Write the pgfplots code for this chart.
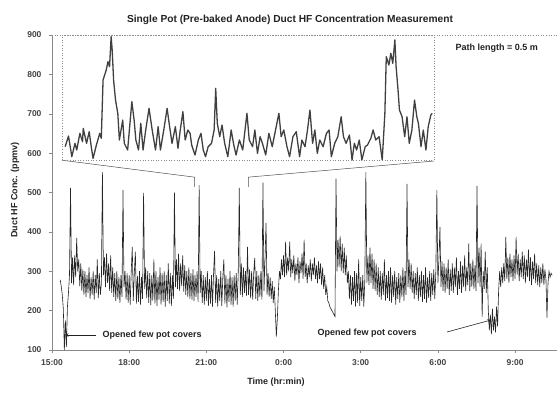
\documentclass[border=0pt]{standalone}
\usepackage{pgfplots}
\pgfplotsset{compat=1.18}
\usepackage{pgfplotstable}
\usepackage{fontspec}
\setmainfont{Liberation Sans}
\definecolor{txt}{HTML}{222222}
\definecolor{axgray}{HTML}{8A8A8A}
\definecolor{dataline}{HTML}{262626}
\definecolor{insetline}{HTML}{404040}

% Main series: HF concentration (ppmv), sampled every 0.04 h starting 15.32 h
\pgfplotstableread{
y
278
262
240
205
100
175
108
210
245
290
512
270
335
265
340
285
385
300
330
262
320
250
305
240
300
235
290
245
310
230
285
240
300
228
290
245
330
232
295
240
270
552
290
335
260
345
270
320
250
340
245
310
235
295
225
300
230
285
220
290
235
506
260
300
228
295
220
290
215
300
362
225
295
350
218
288
222
300
215
285
230
499
255
310
232
300
220
295
214
290
225
330
218
300
212
285
228
310
215
295
222
300
210
290
225
320
218
295
212
290
230
500
260
330
255
345
250
320
262
340
248
315
240
300
235
310
230
295
228
305
225
290
235
300
222
519
245
300
220
290
215
285
225
300
212
280
218
290
210
295
352
220
290
210
280
225
300
212
285
330
218
290
208
280
222
300
215
285
210
290
225
295
215
300
512
240
320
235
310
245
300
238
362
240
305
232
300
228
295
334
230
300
225
290
235
300
228
525
250
330
423
240
295
235
285
230
275
220
260
200
134
180
250
300
280
330
290
340
285
375
290
335
300
375
285
330
295
340
275
320
290
335
270
325
295
345
280
380
285
320
270
315
285
330
275
320
290
335
280
315
270
325
280
320
265
310
255
290
240
260
225
220
210
205
200
195
190
185
535
300
380
310
390
300
370
295
360
290
340
270
300
230
290
215
285
225
300
210
295
220
330
212
285
225
290
210
280
552
270
340
265
360
270
345
255
330
250
320
240
310
235
300
228
295
240
330
225
290
232
300
225
310
220
290
235
300
215
285
230
295
220
290
235
310
225
300
240
522
260
330
255
320
245
300
230
295
240
310
225
290
235
300
222
290
230
310
220
285
232
300
225
295
240
305
230
300
506
270
330
413
260
325
250
320
245
310
255
330
240
305
250
320
245
310
260
335
240
300
255
325
245
315
260
340
250
310
265
370
250
320
260
330
255
315
250
517
270
360
260
370
184
300
255
350
245
310
200
150
190
140
205
150
185
145
210
160
250
300
260
310
270
320
275
387
280
335
270
345
285
330
275
340
280
387
290
345
275
330
285
350
280
340
270
330
285
355
275
335
265
325
280
345
270
320
265
315
260
310
270
320
265
305
280
182
270
300
285
295
290
}\mainseries

% Inset: magnified view of 20:32-22:38 (hours, ppmv)
\pgfplotstableread{
x y
20.538 245.9
20.557 273.0
20.576 220.5
20.594 254.4
20.604 237.4
20.622 279.8
20.637 258.6
20.641 292.5
20.660 254.4
20.675 284.1
20.688 241.7
20.697 216.2
20.716 250.1
20.735 279.8
20.744 267.1
20.754 415.5
20.772 440.9
20.782 462.1
20.791 449.4
20.800 525.7
20.806 491.8
20.814 415.5
20.825 364.6
20.838 330.7
20.847 262.9
20.866 313.7
20.875 254.4
20.894 237.4
20.918 360.4
20.931 313.7
20.941 262.9
20.956 237.4
20.969 305.3
20.982 237.4
20.997 288.3
21.016 343.4
21.034 288.3
21.053 237.4
21.068 296.8
21.081 237.4
21.100 288.3
21.119 343.4
21.128 313.7
21.147 254.4
21.166 296.8
21.181 241.7
21.194 288.3
21.209 334.9
21.222 262.9
21.237 288.3
21.250 279.8
21.259 250.1
21.278 224.7
21.297 262.9
21.312 279.8
21.325 237.4
21.338 220.5
21.353 245.9
21.372 254.4
21.387 288.3
21.396 394.3
21.405 305.3
21.419 271.3
21.432 301.0
21.447 254.4
21.465 220.5
21.484 288.3
21.499 250.1
21.512 224.7
21.531 262.9
21.550 237.4
21.563 288.3
21.574 330.7
21.587 262.9
21.606 245.9
21.619 288.3
21.634 228.9
21.649 271.3
21.662 254.4
21.681 224.7
21.699 279.8
21.718 245.9
21.737 288.3
21.756 330.7
21.769 271.3
21.784 288.3
21.802 245.9
21.817 220.5
21.836 271.3
21.855 284.1
21.874 220.5
21.887 262.9
21.905 245.9
21.919 288.3
21.933 339.2
21.948 254.4
21.961 288.3
21.975 228.9
21.989 262.9
22.008 245.9
22.027 279.8
22.042 288.3
22.055 220.5
22.074 254.4
22.092 271.3
22.111 322.2
22.124 271.3
22.139 254.4
22.158 275.6
22.173 212.0
22.186 254.4
22.199 237.4
22.214 262.9
22.229 212.0
22.248 245.9
22.261 250.1
22.280 267.1
22.293 288.3
22.308 262.9
22.327 271.3
22.345 212.0
22.360 330.7
22.368 474.9
22.383 453.7
22.394 483.3
22.405 457.9
22.417 517.3
22.424 449.4
22.435 390.1
22.443 339.2
22.458 322.2
22.473 271.3
22.486 322.2
22.499 254.4
22.514 288.3
22.529 364.6
22.542 322.2
22.551 305.3
22.566 245.9
22.579 288.3
22.594 237.4
22.607 296.8
22.622 326.5
22.630 330.7
}\insetseries

\begin{document}
\begin{tikzpicture}
\useasboundingbox (-52pt,-42pt) rectangle (507pt,350pt);
\begin{axis}[
  at={(0pt,0pt)}, anchor=south west,
  scale only axis, width=505pt, height=315pt,
  xmin=15, xmax=34.63, ymin=100, ymax=900,
  axis lines=left, axis line style={-, draw=axgray, line width=0.6pt},
  xtick={15,18,21,24,27,30,33},
  xticklabels={15:00,18:00,21:00,0:00,3:00,6:00,9:00},
  ytick={100,200,...,900},
  tick align=outside, tick style={draw=axgray, line width=0.5pt},
  major tick length=3pt,
  /pgf/number format/assume math mode=true,
  ticklabel style={font=\bfseries\fontsize{8.5}{10}\selectfont, text=txt!85},
  xticklabel style={yshift=-3pt},
  yticklabel style={xshift=-4pt},
  clip=false,
]
\draw[axgray, dotted, line width=0.6pt] (axis cs:15,900) -- (axis cs:34.63,900);
\addplot[dataline, line width=0.6pt, sharp plot, mark=none]
  table[x expr=15.32+\coordindex*0.04, y index=0] {\mainseries};
% connector lines from inset to the magnified window
\draw[txt!80, line width=0.5pt] (axis cs:15.39,582) -- (axis cs:20.54,539) -- (axis cs:20.54,514);
\draw[txt!80, line width=0.5pt] (axis cs:29.85,580) -- (axis cs:22.63,539) -- (axis cs:22.63,514);
\end{axis}
\begin{axis}[
  at={(10pt,190pt)}, anchor=south west,
  scale only axis, width=372pt, height=125pt,
  xmin=20.52, xmax=22.64, ymin=212, ymax=530,
  hide axis, clip=false,
]
\addplot[insetline, line width=1.3pt, sharp plot, mark=none, line join=round]
  table[x=x, y=y] {\insetseries};
\end{axis}
\draw[axgray, dotted, line width=0.6pt] (10pt,190pt) rectangle (382pt,315pt);
% texts
\node[font=\bfseries\fontsize{10.2}{12}\selectfont, text=txt] at (238pt,330pt)
  {Single Pot (Pre-baked Anode) Duct HF Concentration Measurement};
\node[font=\bfseries\fontsize{9}{11}\selectfont, text=txt, anchor=west] at (400pt,302pt)
  {Path length = 0.5 m};
\node[font=\bfseries\fontsize{9}{11}\selectfont, text=txt, rotate=90] at (-37pt,160pt)
  {Duct HF Conc. (ppmv)};
\node[font=\bfseries\fontsize{9}{11}\selectfont, text=txt] at (224pt,-32pt)
  {Time (hr:min)};
\node[font=\bfseries\fontsize{9}{11}\selectfont, text=txt, anchor=west] at (47pt,15pt)
  {Opened few pot covers};
\draw[-stealth, txt, line width=0.6pt] (44pt,15pt) -- (13pt,15pt);
\node[font=\bfseries\fontsize{9}{11}\selectfont, text=txt, anchor=west] at (262pt,17pt)
  {Opened few pot covers};
\draw[-stealth, txt, line width=0.6pt] (395pt,18pt) -- (439pt,30pt);
\end{tikzpicture}
\end{document}
